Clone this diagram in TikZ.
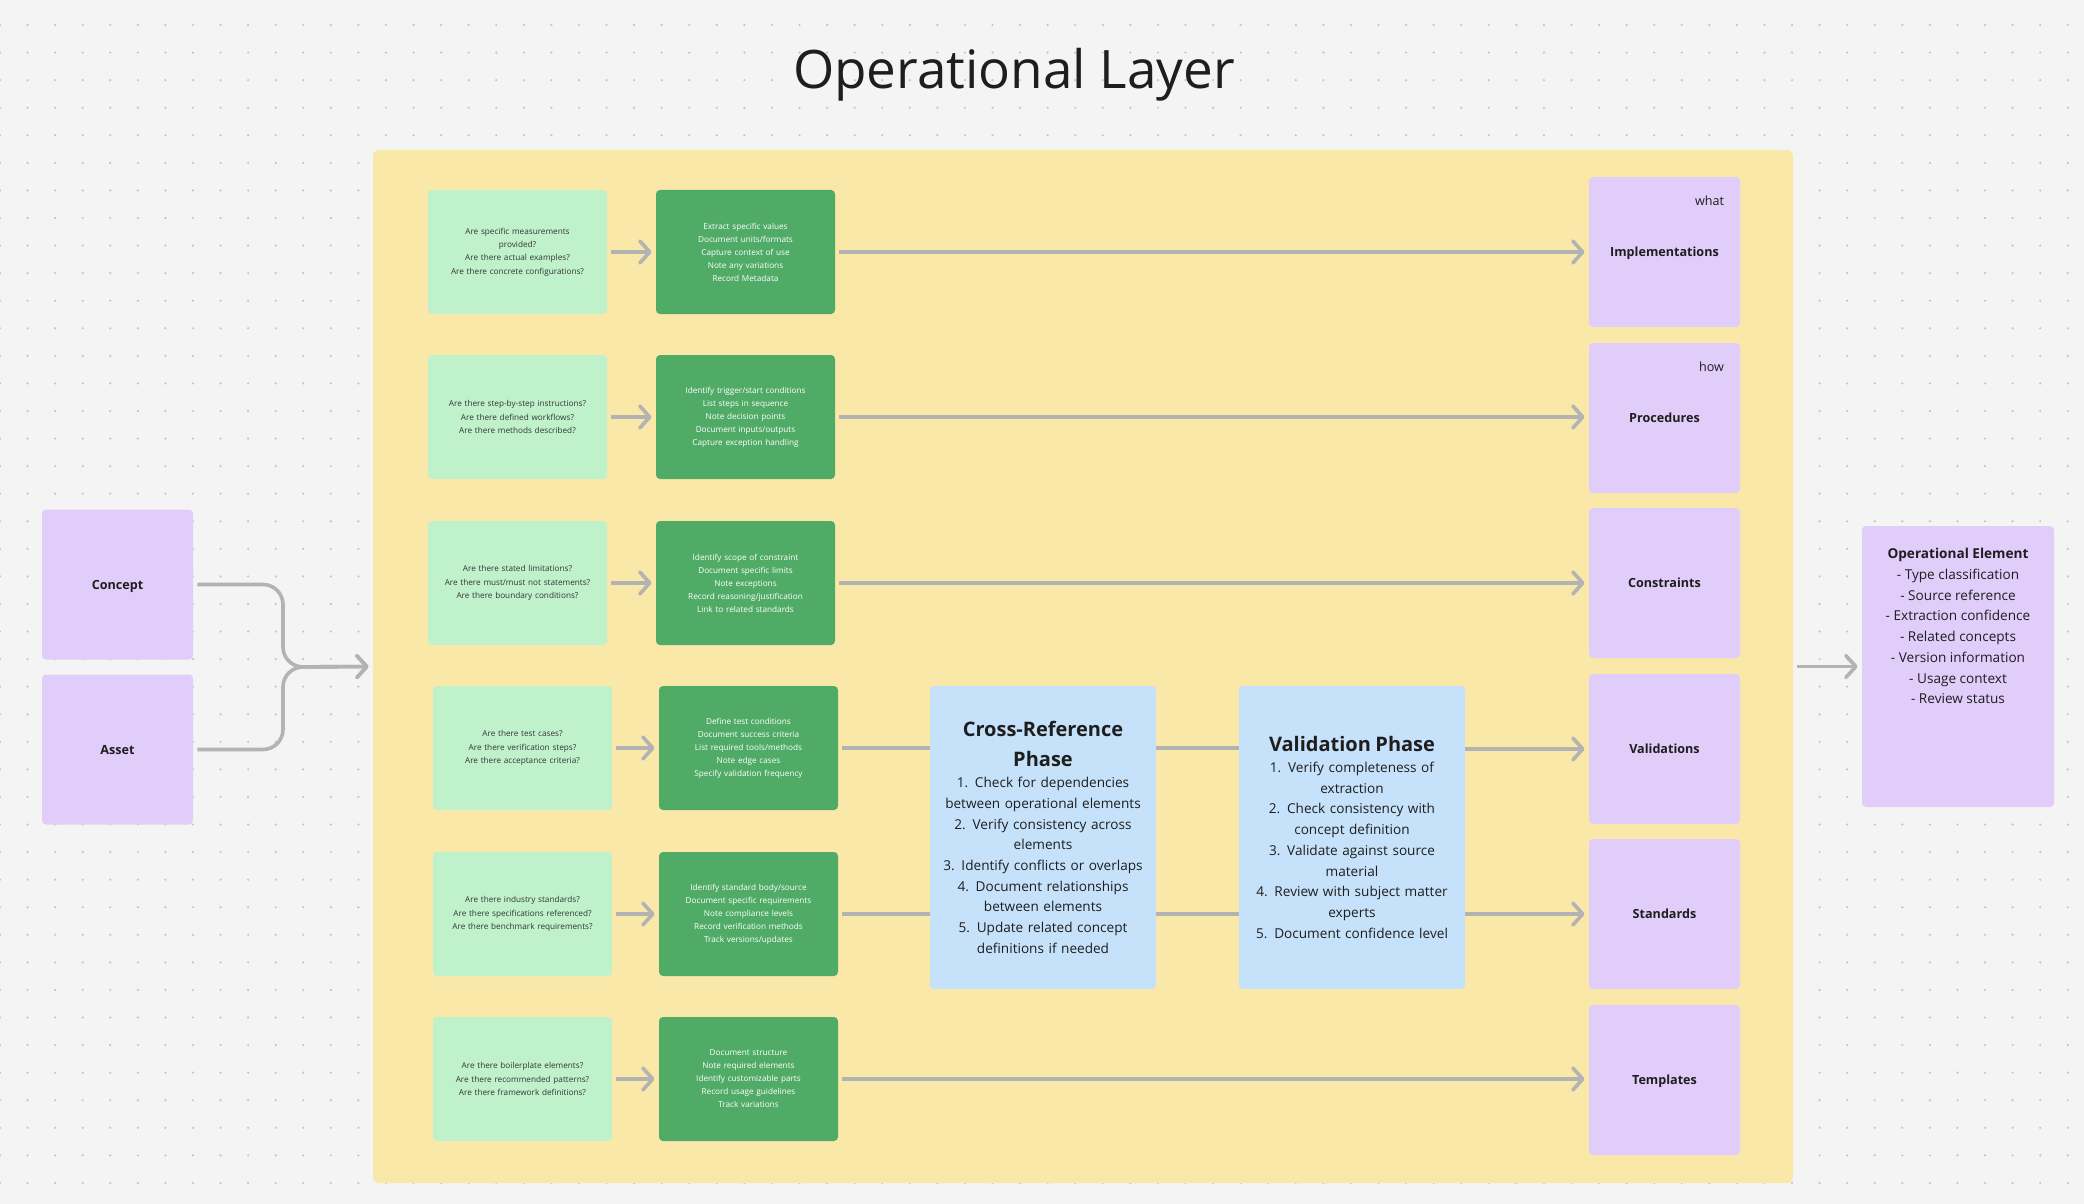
\documentclass[tikz,border=0pt]{standalone}
\usepackage{fontspec}
\setmainfont{Open Sans}
\usetikzlibrary{arrows.meta,positioning}

\definecolor{canvas}{HTML}{F4F4F4}
\definecolor{griddot}{HTML}{C4C4C4}
\definecolor{layerbg}{HTML}{FAE8A9}
\definecolor{qgreen}{HTML}{BFF1CA}
\definecolor{agreen}{HTML}{50AB66}
\definecolor{lilac}{HTML}{E0CDFA}
\definecolor{skyblue}{HTML}{C5E2FA}
\definecolor{ink}{HTML}{1E1E1E}
\definecolor{wire}{HTML}{B3B3B3}

\newcommand{\phasetitle}{\fontsize{10}{15}\selectfont\bfseries}

\begin{document}
\begin{tikzpicture}[
    x=0.5pt, y=-0.5pt,
    question/.style={rectangle, rounded corners=2pt, fill=qgreen, text=ink!90,
      minimum width=89.5pt, minimum height=62pt, text width=80pt, align=center,
      font=\fontsize{4.1}{6.67}\selectfont},
    action/.style={rectangle, rounded corners=2pt, fill=agreen, text=white,
      minimum width=89.5pt, minimum height=62pt, text width=80pt, align=center,
      font=\fontsize{4.1}{6.5}\selectfont},
    element/.style={rectangle, rounded corners=2pt, fill=lilac, text=ink, text depth=0pt,
      minimum width=75.5pt, minimum height=75pt, font=\fontsize{6.3}{8}\selectfont\bfseries},
    tag/.style={anchor=north east, inner sep=0pt, xshift=-8pt, yshift=-9.5pt,
      text=ink, font=\fontsize{6.3}{8}\selectfont},
    phase/.style={rectangle, rounded corners=2pt, fill=skyblue, text=ink,
      minimum width=113pt, minimum height=151.5pt, text width=106pt, align=center,
      font=\fontsize{6.8}{10.35}\selectfont},
    flow/.style={draw=wire, line width=1.8pt, -{Straight Barb[length=5pt,width=11pt,round]},
      shorten <=2pt, shorten >=2pt},
    link/.style={draw=wire, line width=1.8pt, shorten <=2pt}
  ]

  % canvas and dot grid
  \useasboundingbox (0,0) rectangle (2084,1204);
  \fill[canvas] (0,0) rectangle (2084,1204);
  \foreach \i in {0,...,75}
    \foreach \j in {0,...,43}
      \fill[griddot] (27.57*\i, 25+27.57*\j) circle (0.6pt);

  \node[text=ink, font=\fontsize{26.5}{32}\selectfont] (title) at (1014,75) {Operational Layer};

  \node[rectangle, rounded corners=3pt, fill=layerbg, minimum width=710pt, minimum height=516.5pt] (layer) at (1083,666.5) {};

  % inputs
  \node[element] (concept) at (117.5,584.5) {Concept};
  \node[element] (asset) at (117.5,749.5) {Asset};

  % row 1
  \node[question] (q1) at (517.5,252) {Are specific measurements\\provided?\\Are there actual examples?\\Are there concrete configurations?};
  \node[action] (a1) at (745.5,252) {Extract specific values\\Document units/formats\\Capture context of use\\Note any variations\\Record Metadata};
  \node[element, label={[tag]north east:what}] (impl) at (1664.5,252) {Implementations};

  % row 2
  \node[question] (q2) at (517.5,417) {Are there step-by-step instructions?\\Are there defined workflows?\\Are there methods described?};
  \node[action] (a2) at (745.5,417) {Identify trigger/start conditions\\List steps in sequence\\Note decision points\\Document inputs/outputs\\Capture exception handling};
  \node[element, label={[tag]north east:how}] (proc) at (1664.5,418) {Procedures};

  % row 3
  \node[question] (q3) at (517.5,583) {Are there stated limitations?\\Are there must/must not statements?\\Are there boundary conditions?};
  \node[action] (a3) at (745.5,583) {Identify scope of constraint\\Document specific limits\\Note exceptions\\Record reasoning/justification\\Link to related standards};
  \node[element] (cons) at (1664.5,583) {Constraints};

  % row 4
  \node[question] (q4) at (522.5,748) {Are there test cases?\\Are there verification steps?\\Are there acceptance criteria?};
  \node[action] (a4) at (748.5,748) {Define test conditions\\Document success criteria\\List required tools/methods\\Note edge cases\\Specify validation frequency};
  \node[element] (valid) at (1664.5,749) {Validations};

  % row 5
  \node[question] (q5) at (522.5,914) {Are there industry standards?\\Are there specifications referenced?\\Are there benchmark requirements?};
  \node[action] (a5) at (748.5,914) {Identify standard body/source\\Document specific requirements\\Note compliance levels\\Record verification methods\\Track versions/updates};
  \node[element] (stds) at (1664.5,914) {Standards};

  % row 6
  \node[question] (q6) at (522.5,1079) {Are there boilerplate elements?\\Are there recommended patterns?\\Are there framework definitions?};
  \node[action] (a6) at (748.5,1079) {Document structure\\Note required elements\\Identify customizable parts\\Record usage guidelines\\Track variations};
  \node[element] (tmpl) at (1664.5,1080) {Templates};

  % phases
  \node[phase] (xref) at (1043,837.5) {{\phasetitle Cross-Reference\\Phase\\}1. Check for dependencies\\between operational elements\\2. Verify consistency across\\elements\\3. Identify conflicts or overlaps\\4. Document relationships\\between elements\\5. Update related concept\\definitions if needed};
  \node[phase] (vphase) at (1352,837.5) {{\phasetitle Validation Phase\\}1. Verify completeness of\\extraction\\2. Check consistency with\\concept definition\\3. Validate against source\\material\\4. Review with subject matter\\experts\\5. Document confidence level};

  % output
  \node[rectangle, rounded corners=2pt, fill=lilac, text=ink, inner sep=0pt,
    font=\fontsize{6.8}{10.35}\selectfont] (opel) at (1958,666.5)
    {\parbox[t][140.5pt][t]{96pt}{\centering\rule{0pt}{16.4pt}\textbf{Operational Element}\\- Type classification\\- Source reference\\- Extraction confidence\\- Related concepts\\- Version information\\- Usage context\\- Review status}};

  % connectors
  \coordinate (merge) at (283,667);
  \draw[flow, rounded corners=10pt] (concept.east) -- (concept.east -| merge) -- (merge) -- (layer.west);
  \draw[flow, rounded corners=10pt] (asset.east) -- (asset.east -| merge) -- (merge) -- (layer.west);

  \draw[flow] (q1.east) -- (a1.west);
  \draw[flow] (q2.east) -- (a2.west);
  \draw[flow] (q3.east) -- (a3.west);
  \draw[flow] (q4.east) -- (a4.west);
  \draw[flow] (q5.east) -- (a5.west);
  \draw[flow] (q6.east) -- (a6.west);

  \draw[flow] (a1.east) -- (impl.west);
  \draw[flow] (a2.east) -- (proc.west |- a2.east);
  \draw[flow] (a3.east) -- (cons.west);
  \draw[flow] (a6.east) -- (tmpl.west |- a6.east);

  \draw[link] (a4.east) -- (a4.east -| xref.west);
  \draw[link] (a5.east) -- (a5.east -| xref.west);
  \draw[draw=wire, line width=1.8pt] (xref.east |- a4.east) -- (vphase.west |- a4.east);
  \draw[draw=wire, line width=1.8pt] (xref.east |- a5.east) -- (vphase.west |- a5.east);
  \draw[flow, shorten <=0pt] (vphase.east |- valid.west) -- (valid.west);
  \draw[flow, shorten <=0pt] (vphase.east |- stds.west) -- (stds.west);

  \draw[flow] (layer.east) -- (opel.west);

\end{tikzpicture}
\end{document}
